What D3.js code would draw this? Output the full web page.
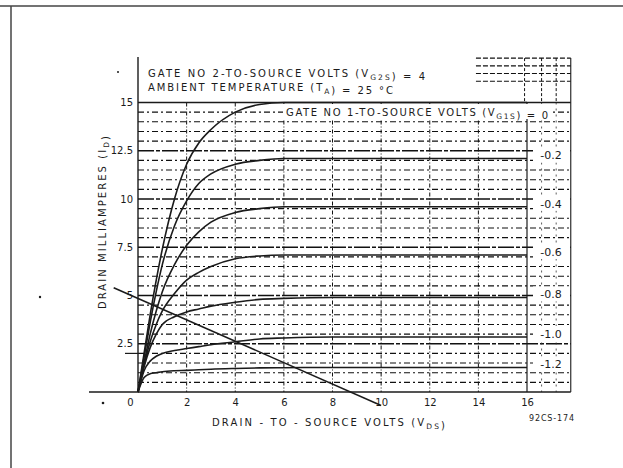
<!DOCTYPE html>
<html>
<head>
<meta charset="utf-8">
<script src="https://cdn.jsdelivr.net/npm/d3@7"></script>
<style>
  body { margin: 0; background: #fff; }
  text { font-family: "DejaVu Sans", sans-serif; fill: #1b1b1b; }
</style>
</head>
<body>
<svg id="chart"></svg>
<script>
const vds = [0, 0.25, 0.5, 0.75, 1, 1.5, 2, 2.5, 3, 4, 5, 6, 8, 16]
// drain milliamperes, one array per gate no 1 voltage
const id_0   = [0, 2.0, 4.0, 5.8, 7.4, 10.0, 11.8, 12.9, 13.6, 14.5, 14.9, 15.0, 15.0, 15.0]
const id_m02 = [0, 1.8, 3.6, 5.2, 6.6, 8.6, 9.9, 10.8, 11.3, 11.8, 12.0, 12.1, 12.1, 12.1]
const id_m04 = [0, 1.5, 3.0, 4.2, 5.2, 6.6, 7.6, 8.3, 8.8, 9.3, 9.5, 9.6, 9.6, 9.6]
const id_m06 = [0, 1.4, 2.6, 3.5, 4.2, 5.1, 5.8, 6.2, 6.5, 6.9, 7.05, 7.1, 7.1, 7.1]
const id_m08 = [0, 1.3, 2.3, 3.0, 3.5, 3.9, 4.15, 4.3, 4.45, 4.65, 4.8, 4.85, 4.9, 4.9]
const id_m10 = [0, 1.1, 1.6, 1.85, 2.0, 2.15, 2.25, 2.35, 2.45, 2.6, 2.75, 2.8, 2.85, 2.85]
const id_m12 = [0, 0.75, 0.95, 1.0, 1.05, 1.1, 1.12, 1.15, 1.18, 1.22, 1.25, 1.26, 1.27, 1.27]
const gateVolts = ["0", "-0.2", "-0.4", "-0.6", "-0.8", "-1.0", "-1.2"]
const curves = [id_0, id_m02, id_m04, id_m06, id_m08, id_m10, id_m12]

// load line end points
const loadV = [-1, 10]
const loadI = [5.4, -0.7]

const xTicks = [0, 2, 4, 6, 8, 10, 12, 14, 16]
const yTicks = [2.5, 5, 7.5, 10, 12.5, 15]

const width = 623, height = 468
const svg = d3.select("#chart").attr("width", width).attr("height", height)

const x = d3.scaleLinear().domain([0, 16]).range([138, 527])
const y = d3.scaleLinear().domain([0, 15]).range([392, 102.5])
const xRight = x(17.8)
const ink = "#1b1b1b"

// outer page frame
svg.append("line").attr("x1", 0).attr("x2", width).attr("y1", 6).attr("y2", 6)
  .attr("stroke", "#444").attr("stroke-width", 1.5)
svg.append("line").attr("x1", 11).attr("x2", 11).attr("y1", 6).attr("y2", height)
  .attr("stroke", "#444").attr("stroke-width", 1.5)

// dashed grid
let grid = svg.append("g")
d3.range(0.5, 15, 0.5).forEach(v => {
  grid.append("line")
    .attr("x1", x(0)).attr("x2", xRight)
    .attr("y1", y(v)).attr("y2", y(v))
    .attr("stroke", "#111")
    .attr("stroke-width", v % 2.5 == 0 ? 1.3 : 1.1)
    .attr("stroke-dasharray", v % 2.5 == 0 ? "16,2,4,2" : "6,3,2,3")
})
xTicks.slice(1, -1).forEach(v => {
  grid.append("line")
    .attr("x1", x(v)).attr("x2", x(v))
    .attr("y1", y(15)).attr("y2", y(0))
    .attr("stroke", "#111").attr("stroke-width", 1)
    .attr("stroke-dasharray", "4,2,1,2")
})
;[16.6, 17.2].forEach(v => {
  grid.append("line")
    .attr("x1", x(v)).attr("x2", x(v))
    .attr("y1", y(15)).attr("y2", y(0))
    .attr("stroke", "#333").attr("stroke-width", 0.8)
    .attr("stroke-dasharray", "2,4")
})

// little grid fragment above the plot, top right
let frag = svg.append("g")
;[16.1, 16.5, 16.9, 17.3].forEach(v => {
  frag.append("line")
    .attr("x1", x(13.9)).attr("x2", xRight)
    .attr("y1", y(v)).attr("y2", y(v))
    .attr("stroke", "#111").attr("stroke-width", 1.1)
    .attr("stroke-dasharray", "5,2")
})
;[15.9, 16.6, 17.2].forEach(v => {
  frag.append("line")
    .attr("x1", x(v)).attr("x2", x(v))
    .attr("y1", y(17.3)).attr("y2", y(15))
    .attr("stroke", "#111").attr("stroke-width", 1)
    .attr("stroke-dasharray", "3,2")
})

// frame of the plot
svg.append("line").attr("x1", x(0)).attr("x2", x(0)).attr("y1", 57).attr("y2", y(0))
  .attr("stroke", ink).attr("stroke-width", 1.4)
svg.append("line").attr("x1", x(0)).attr("x2", xRight).attr("y1", y(15)).attr("y2", y(15))
  .attr("stroke", ink).attr("stroke-width", 1.4)
svg.append("line").attr("x1", 89).attr("x2", xRight).attr("y1", y(0)).attr("y2", y(0))
  .attr("stroke", ink).attr("stroke-width", 1.6)
svg.append("line").attr("x1", 125).attr("x2", x(0)).attr("y1", y(2)).attr("y2", y(2))
  .attr("stroke", ink).attr("stroke-width", 1.2)
svg.append("line").attr("x1", x(16)).attr("x2", x(16)).attr("y1", y(15)).attr("y2", y(0))
  .attr("stroke", ink).attr("stroke-width", 1.2)
svg.append("line").attr("x1", xRight).attr("x2", xRight).attr("y1", y(17.3)).attr("y2", y(0))
  .attr("stroke", ink).attr("stroke-width", 1.1)

// characteristic curves
const line = d3.line().x(d => x(d[0])).y(d => y(d[1])).curve(d3.curveMonotoneX)
svg.append("g")
  .selectAll("path")
  .data(curves)
  .join("path")
  .attr("d", d => line(vds.map((v, i) => [v, d[i]])))
  .attr("fill", "none")
  .attr("stroke", ink)
  .attr("stroke-width", 1.6)

// load line
svg.append("path")
  .attr("d", d3.line().x(d => x(d[0])).y(d => y(d[1]))(loadV.map((v, i) => [v, loadI[i]])))
  .attr("fill", "none")
  .attr("stroke", ink)
  .attr("stroke-width", 1.5)

// helper for text with subscripts
function label(g, parts, px, py, len, size) {
  let t = g.append("text").attr("x", px).attr("y", py)
    .attr("font-size", size)
  if (len) t.attr("textLength", len).attr("lengthAdjust", "spacing")
  parts.forEach(p => {
    if (p[1]) {
      t.append("tspan").attr("font-size", size * 0.75).attr("dy", 3).text(p[0])
      t.append("tspan").attr("dy", -3).text("")
    } else {
      t.append("tspan").text(p[0])
    }
  })
  return t
}

// header
label(svg, [["GATE NO 2-TO-SOURCE VOLTS (V"], ["G2S", 1], [") = 4"]], 148, 77, 277, 10)
label(svg, [["AMBIENT TEMPERATURE (T"], ["A", 1], [") = 25 \u00b0C"]], 148, 91, 245, 10)

// gate no 1 labels in the right column
svg.append("rect").attr("x", 283).attr("y", 104).attr("width", 268).attr("height", 15).attr("fill", "#fff")
label(svg, [["GATE NO 1-TO-SOURCE VOLTS (V"], ["G1S", 1], [") = " + gateVolts[0]]], 286, 116, 262, 10)

let col = svg.append("g")
gateVolts.slice(1).forEach((g, i) => {
  let yy = y(curves[i + 1][curves[i + 1].length - 1]) - 3
  col.append("rect").attr("x", x(16) + 6).attr("y", yy - 8).attr("width", 36).attr("height", 15)
    .attr("fill", "#fff")
  col.append("text")
    .attr("x", x(16) + 24).attr("y", yy + 4)
    .attr("text-anchor", "middle")
    .attr("font-size", 11)
    .text(g)
})

// axes
let xAxis = svg.append("g")
  .attr("transform", "translate(0," + y(0) + ")")
  .call(d3.axisBottom(x).tickValues(xTicks).tickSize(0).tickPadding(7).tickFormat(d3.format("d")))
xAxis.select(".domain").remove()
xAxis.selectAll("text").attr("font-size", 10).attr("fill", ink)
  .attr("dx", d => d == 0 ? -8 : 0)

let yAxis = svg.append("g")
  .attr("transform", "translate(" + (x(0) - 4) + ",0)")
  .call(d3.axisLeft(y).tickValues(yTicks).tickSize(0).tickPadding(1).tickFormat(d => d))
yAxis.select(".domain").remove()
yAxis.selectAll("text").attr("font-size", 10).attr("fill", ink)

// axis titles
label(svg, [["DRAIN - TO - SOURCE VOLTS (V"], ["DS", 1], [")"]], 212, 426, 233, 10)
label(svg, [["92CS-174"]], 529, 421, 45, 8)

let yt = svg.append("g").attr("transform", "translate(106,223) rotate(-90)")
label(yt, [["DRAIN MILLIAMPERES (I"], ["D", 1], [")"]], -86, 0, 173, 10)

// stray specks of the scan
svg.append("circle").attr("cx", 103).attr("cy", 403).attr("r", 1.3).attr("fill", ink)
svg.append("circle").attr("cx", 118).attr("cy", 72).attr("r", 1).attr("fill", ink)
svg.append("circle").attr("cx", 40).attr("cy", 297).attr("r", 1.2).attr("fill", ink)
</script>
</body>
</html>
